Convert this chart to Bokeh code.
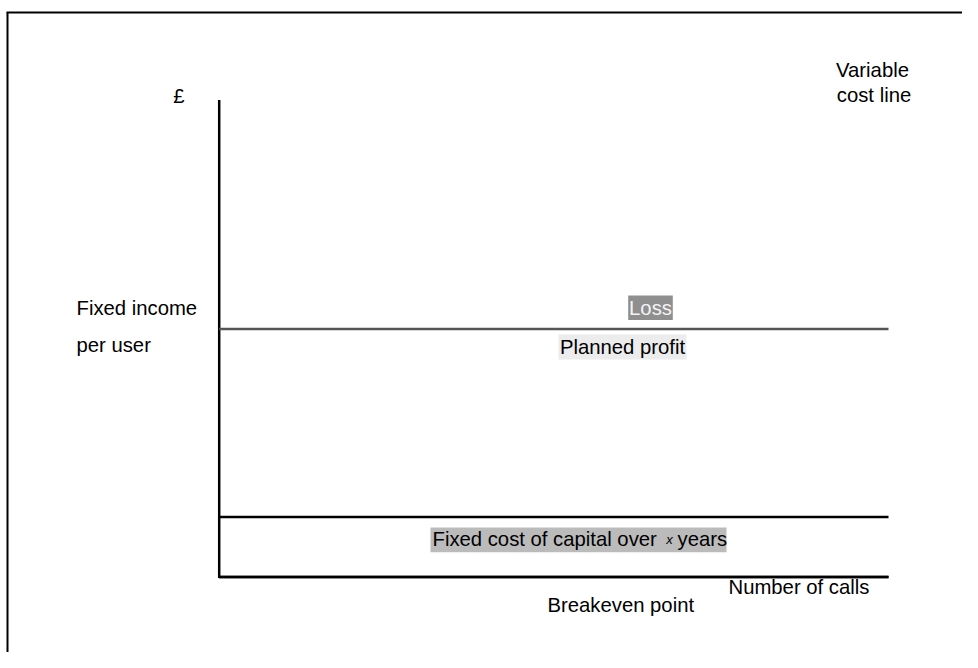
from bokeh.plotting import figure
from bokeh.models import Range1d, ColumnDataSource
from bokeh.core.properties import value
from bokeh.embed import file_html
from bokeh.resources import INLINE

# ---- diagram content (screen-like units: x to the right, y downward) ----
axis_x = [218.7, 218.7, 218.7]
axis_y0 = [99.5, 576.5, 576.5]
axis_x1 = [218.7, 888.0, 888.0]
axis_y1 = [577.5, 576.5, 576.5]

# horizontal levels: fixed income per user, fixed cost of capital
level_names = ["Fixed income per user", "Fixed cost of capital"]
level_y = [328.5, 516.5]
level_x_end = [888.0, 888.0]
level_colors = ["#555555", "#000000"]

# shaded text boxes
box_left = [627.7, 558.0, 430.0]
box_right = [672.3, 686.0, 726.0]
box_top = [295.0, 334.0, 527.0]
box_bottom = [319.5, 359.0, 551.7]
box_colors = ["#8f8f8f", "#ececec", "#bbbbbb"]

# plain texts
labels = ["£", "Variable", "cost line", "Fixed income", "per user",
          "Loss", "Planned profit", "Fixed cost of capital over", "years",
          "Number of calls", "Breakeven point"]
label_x = [178.5, 872.0, 873.5, 76.0, 76.0,
           650.0, 622.0, 432.0, 677.0,
           728.0, 547.0]
label_y = [95.0, 69.0, 94.0, 307.0, 344.0,
           307.5, 346.0, 538.5, 538.5,
           586.0, 604.0]
label_align = ["center", "center", "center", "left", "left",
               "center", "center", "left", "left",
               "left", "left"]
label_color = ["#000000", "#000000", "#000000", "#000000", "#000000",
               "#f4f4f4", "#000000", "#000000", "#000000",
               "#000000", "#000000"]

italic_text = ["x"]
italic_x = [669.0]
italic_y = [538.5]

FONT = "Liberation Sans"

p = figure(width=962, height=652, output_backend="svg", toolbar_location=None,
           x_range=Range1d(0, 962), y_range=Range1d(652, 0),
           min_border=0, outline_line_color=None,
           background_fill_color="white", border_fill_color="white")
p.axis.visible = False
p.grid.visible = False

# outer frame (left and top edges visible)
p.segment(x0=[7, 6], y0=[12, 12], x1=[7, 962], y1=[652, 12],
          line_color="black", line_width=2)

# shaded boxes
p.quad(left=box_left, right=box_right, top=box_top, bottom=box_bottom,
       fill_color=box_colors, line_color=None)

# axes
p.segment(x0=axis_x, y0=axis_y0, x1=axis_x1, y1=axis_y1,
          line_color="black", line_width=2.5)

# levels
p.segment(x0=[218.7] * len(level_y), y0=level_y, x1=level_x_end, y1=level_y,
          line_color=level_colors, line_width=2.5)

src = ColumnDataSource(dict(x=label_x, y=label_y, text=labels,
                            align=label_align, color=label_color))
p.text(x="x", y="y", text="text", source=src, text_align="align",
       text_color="color", text_baseline="alphabetic",
       text_font=value(FONT), text_font_size="20.3px")

p.text(x=italic_x, y=italic_y, text=italic_text, text_align="center",
       text_baseline="alphabetic", text_font=value(FONT),
       text_font_size="13px", text_font_style="italic", text_color="black")

open("out.html", "w").write(file_html(p, INLINE))
